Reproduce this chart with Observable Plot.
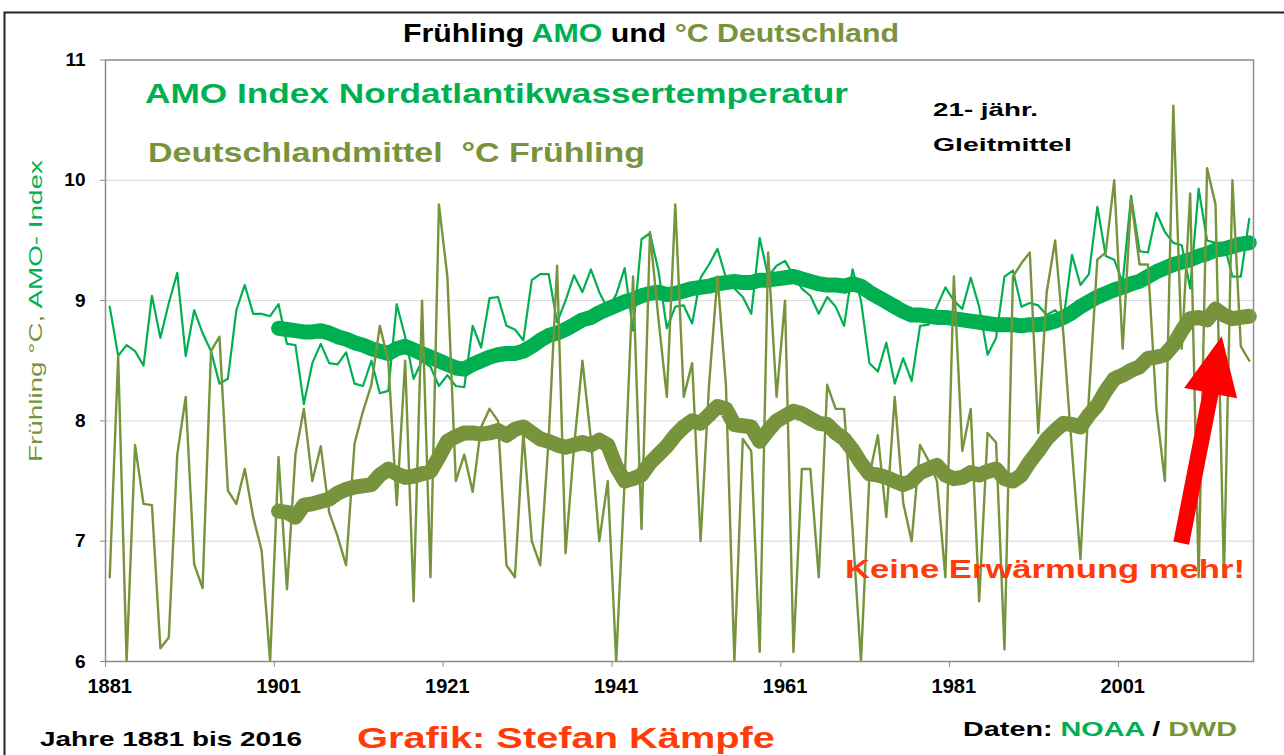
<!DOCTYPE html>
<html><head><meta charset="utf-8">
<script src="https://cdn.jsdelivr.net/npm/d3@7"></script>
<script src="https://cdn.jsdelivr.net/npm/@observablehq/plot@0.6"></script>
<style>body{margin:0;background:#fff} svg{display:block}</style>
</head><body><div id="chart"></div>
<script>
// categories
const years = d3.range(1881, 2017);
const smoothYears = d3.range(1901, 2017);
const xLabels = [1881, 1901, 1921, 1941, 1961, 1981, 2001];
const xBounds = [1880.5, 1900.5, 1920.5, 1940.5, 1960.5, 1980.5, 2000.5];
const yTicks = [6, 7, 8, 9, 10, 11];

// AMO index (thin line), 1881-2016
const amo = [
8.95,8.54,8.63,8.58,8.46,9.04,8.69,8.98,9.23,8.54,
8.92,8.73,8.58,8.31,8.35,8.92,9.13,8.89,8.89,8.87,
8.97,8.64,8.63,8.14,8.48,8.64,8.48,8.47,8.57,8.31,
8.29,8.50,8.23,8.25,8.97,8.70,8.35,8.50,8.45,8.29,
8.38,8.29,8.28,8.79,8.61,9.02,9.03,8.79,8.76,8.67,
9.17,9.22,9.22,8.82,9.00,9.21,9.07,9.26,9.07,8.93,
9.05,9.27,8.75,9.51,9.56,9.25,8.77,8.95,8.96,8.81,
9.19,9.30,9.43,9.19,9.10,9.03,8.89,9.52,9.20,9.29,
9.33,9.21,9.10,9.04,8.89,9.03,8.95,8.79,9.26,9.00,
8.48,8.41,8.65,8.31,8.52,8.33,8.79,8.80,8.95,9.11,
9.00,8.93,9.19,8.95,8.55,8.69,9.20,9.25,8.95,8.98,
8.96,8.88,8.92,8.85,9.38,9.13,9.22,9.78,9.37,9.34,
9.15,9.87,9.41,9.40,9.73,9.57,9.48,9.46,9.10,9.93,
9.50,9.48,9.48,9.20,9.20,9.68];

// Deutschland Frühling °C (thin line), 1881-2016
const dwd = [
6.70,8.54,6.00,7.80,7.31,7.30,6.11,6.20,7.72,8.20,
6.81,6.61,8.58,8.70,7.42,7.31,7.60,7.20,6.92,6.00,
7.70,6.60,7.72,8.10,7.50,7.79,7.24,7.04,6.80,7.81,
8.08,8.30,8.79,8.50,7.30,8.50,6.50,9.00,6.70,9.80,
9.20,7.50,7.72,7.41,7.95,8.10,8.00,6.80,6.70,7.90,
7.00,6.80,7.85,9.29,6.90,7.78,8.50,7.85,7.00,7.50,
6.00,7.50,9.20,7.10,9.57,8.85,8.20,9.80,8.20,8.48,
7.00,8.30,9.20,8.30,6.00,7.85,7.75,6.08,9.40,8.20,
9.00,6.08,7.60,7.60,6.70,8.30,8.10,8.10,7.10,6.00,
7.55,7.88,7.20,8.20,7.32,7.00,7.80,7.67,7.50,6.70,
9.20,7.75,8.10,6.50,7.90,7.82,6.10,9.20,9.31,9.40,
7.90,9.07,9.50,8.70,7.75,6.85,8.20,9.34,9.40,10.00,
8.60,9.85,9.30,9.30,8.10,7.50,10.62,8.60,9.89,6.70,
10.10,9.80,6.70,10.00,8.62,8.50];

// 21-jähriges Gleitmittel AMO, 1901-2016
const amoSmooth = [
8.77,8.76,8.75,8.74,8.74,8.75,8.73,8.70,8.68,8.65,
8.63,8.60,8.58,8.56,8.60,8.62,8.59,8.56,8.53,8.50,
8.47,8.44,8.43,8.47,8.50,8.53,8.55,8.56,8.56,8.58,
8.62,8.67,8.71,8.73,8.76,8.80,8.84,8.86,8.90,8.93,
8.96,8.99,9.01,9.04,9.06,9.07,9.05,9.06,9.08,9.10,
9.11,9.12,9.14,9.15,9.16,9.15,9.15,9.17,9.17,9.18,
9.19,9.20,9.18,9.16,9.14,9.13,9.13,9.12,9.14,9.12,
9.07,9.03,8.99,8.95,8.91,8.88,8.88,8.87,8.86,8.86,
8.85,8.84,8.83,8.82,8.81,8.80,8.80,8.80,8.79,8.80,
8.80,8.81,8.83,8.86,8.90,8.95,8.99,9.03,9.06,9.09,
9.11,9.14,9.16,9.20,9.24,9.27,9.30,9.32,9.34,9.37,
9.39,9.42,9.43,9.45,9.47,9.48];

// 21-jähriges Gleitmittel Deutschland, 1901-2016
const dwdSmooth = [
7.25,7.24,7.20,7.30,7.31,7.33,7.35,7.40,7.43,7.45,
7.46,7.47,7.55,7.60,7.56,7.53,7.54,7.56,7.58,7.70,
7.83,7.87,7.90,7.90,7.89,7.90,7.92,7.88,7.93,7.95,
7.90,7.85,7.83,7.80,7.78,7.80,7.82,7.80,7.84,7.80,
7.62,7.50,7.52,7.55,7.65,7.72,7.79,7.88,7.95,8.00,
7.98,8.05,8.12,8.10,7.97,7.96,7.95,7.83,7.92,8.00,
8.04,8.08,8.06,8.02,7.98,7.97,7.90,7.85,7.76,7.65,
7.56,7.55,7.53,7.50,7.47,7.50,7.57,7.60,7.63,7.55,
7.52,7.53,7.57,7.55,7.58,7.60,7.52,7.50,7.55,7.66,
7.75,7.85,7.92,7.98,7.97,7.95,8.05,8.13,8.25,8.35,
8.38,8.42,8.45,8.52,8.53,8.55,8.63,8.75,8.85,8.86,
8.84,8.93,8.88,8.85,8.86,8.87];

const GREEN = "#00B050", OLIVE = "#77933C", RED = "#FF0000", ORANGE = "#FF3B0A";
const FONT = "'Liberation Sans', Arial, sans-serif";

const thick = {strokeWidth: 15, strokeLinecap: "round", strokeLinejoin: "round"};
const plot = Plot.plot({
  width: 1284, height: 755,
  marginTop: 59.5, marginBottom: 94, marginLeft: 105, marginRight: 31,
  style: {fontFamily: FONT, background: "#fff", color: "#000"},
  x: {domain: [1880.5, 2016.5]},
  y: {domain: [6, 11]},
  marks: [
    Plot.ruleY([7, 8, 9, 10], {stroke: "#d9d9d9", strokeWidth: 1}),
    Plot.lineY(amoSmooth, {x: (d, i) => smoothYears[i], y: d => d, stroke: GREEN, ...thick}),
    Plot.lineY(dwdSmooth, {x: (d, i) => smoothYears[i], y: d => d, stroke: OLIVE, ...thick}),
    Plot.lineY(amo, {x: (d, i) => years[i], y: d => d, stroke: GREEN, strokeWidth: 2.2, strokeLinejoin: "round", clip: true}),
    Plot.lineY(dwd, {x: (d, i) => years[i], y: d => d, stroke: OLIVE, strokeWidth: 2.4, strokeLinejoin: "round", clip: true}),
    Plot.frame({stroke: "#8c8c8c", strokeWidth: 1.5}),
    Plot.axisY({ticks: yTicks, tickSize: 5, tickPadding: 15, fontSize: 19, fontWeight: "bold", stroke: "#8c8c8c", label: null, tickFormat: d => String(d)}),
    Plot.axisX({ticks: xBounds, tickSize: 6, stroke: "#8c8c8c", tickFormat: () => "", label: null}),
    Plot.axisX({ticks: xLabels, tickSize: 0, tickPadding: 17, fontSize: 20, fontWeight: "bold", label: null, tickFormat: d => String(d)})
  ]
});

document.getElementById("chart").appendChild(plot);
const svg = d3.select(plot);
const xs = plot.scale("x"), ys = plot.scale("y");
const sx = v => xs.apply(v), sy = v => ys.apply(v);

// outer border of the chart
svg.insert("rect", ":first-child")
  .attr("x", 4.5).attr("y", 12.5).attr("width", 1300).attr("height", 760)
  .attr("fill", "none").attr("stroke", "#222").attr("stroke-width", 2);

function label(x, y, parts, size, len, opts = {}) {
  const t = svg.append("text")
    .attr("x", x).attr("y", y)
    .attr("font-family", opts.family || FONT)
    .attr("font-size", size).attr("font-weight", opts.weight || "bold")
    .attr("text-anchor", opts.anchor || "start");
  if (len) t.attr("textLength", len).attr("lengthAdjust", "spacingAndGlyphs");
  if (opts.transform) t.attr("transform", opts.transform);
  for (const [s, c] of parts) t.append("tspan").attr("fill", c).text(s);
  return t;
}

label(403, 42, [["Frühling ", "#000"], ["AMO", GREEN], [" und ", "#000"], ["°C Deutschland", OLIVE]], 26, 496);
label(145, 103, [["AMO Index Nordatlantikwassertemperatur", GREEN]], 27, 703);
label(148, 162, [["Deutschlandmittel  °C Frühling", OLIVE]], 27, 497);
label(933, 116, [["21- jähr.", "#000"]], 19, 105);
label(933, 151, [["Gleitmittel", "#000"]], 19, 139);
label(845, 578, [["Keine Erwärmung mehr!", ORANGE]], 26, 400);
label(40, 746, [["Jahre 1881 bis 2016", "#000"]], 21, 262);
label(357, 748, [["Grafik: Stefan Kämpfe", ORANGE]], 30, 418);
label(963, 736, [["Daten: ", "#000"], ["NOAA", GREEN], [" / ", "#000"], ["DWD", OLIVE]], 21, 274);
label(0, 0, [["Frühling °C, ", OLIVE], ["AMO- Index", GREEN]], 19, 302,
  {anchor: "middle", weight: "normal", transform: "translate(42,311) rotate(-90)"});

// red arrow pointing at the flat end of the DWD mean
const tail = [sx(2008.0), sy(6.98)], tip = [sx(2012.8), sy(8.70)];
const dx = tip[0] - tail[0], dy = tip[1] - tail[1], L = Math.hypot(dx, dy);
const u = [dx / L, dy / L], n = [-u[1], u[0]];
const hw = 8, hh = 27, hl = 58;
const neck = [tip[0] - u[0] * hl, tip[1] - u[1] * hl];
const P = (p, k) => [p[0] + n[0] * k, p[1] + n[1] * k];
const pts = [P(tail, hw), P(neck, hw), P(neck, hh), tip, P(neck, -hh), P(neck, -hw), P(tail, -hw)];
svg.append("polygon").attr("points", pts.map(p => p.join(",")).join(" ")).attr("fill", RED);
</script>
</body></html>
